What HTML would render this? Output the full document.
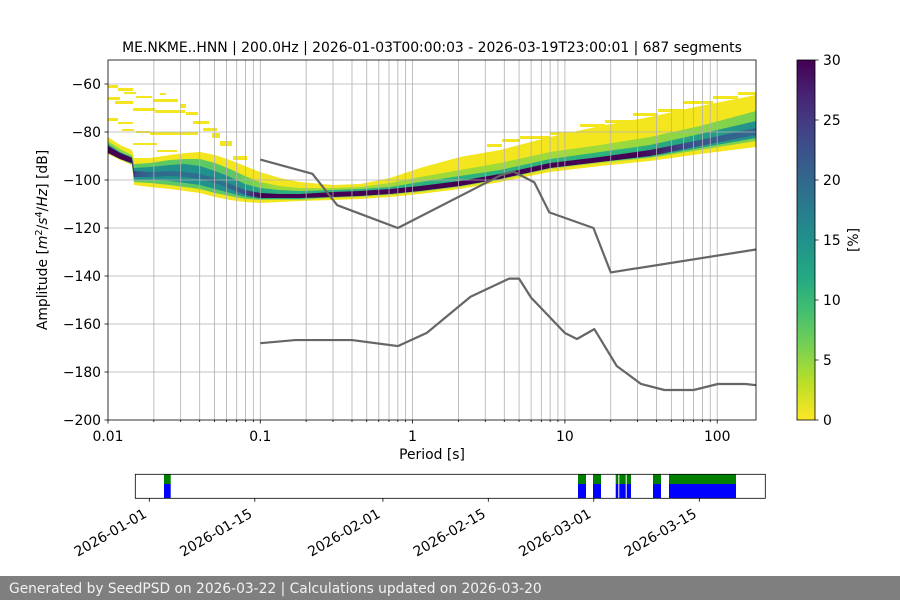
<!DOCTYPE html>
<html><head><meta charset="utf-8"><style>
html,body{margin:0;padding:0;background:#fff;}
svg{display:block;}
text{font-family:"DejaVu Sans","Liberation Sans",sans-serif;fill:#000;}
</style></head><body>
<svg width="900" height="600" viewBox="0 0 900 600" xmlns="http://www.w3.org/2000/svg">
<defs>
<linearGradient id="cb" x1="0" y1="0" x2="0" y2="1">
<stop offset="0" stop-color="#440154"/>
<stop offset="0.1" stop-color="#482475"/>
<stop offset="0.2" stop-color="#414487"/>
<stop offset="0.3" stop-color="#355f8d"/>
<stop offset="0.4" stop-color="#2a788e"/>
<stop offset="0.5" stop-color="#21918c"/>
<stop offset="0.6" stop-color="#22a884"/>
<stop offset="0.7" stop-color="#44bf70"/>
<stop offset="0.8" stop-color="#7ad151"/>
<stop offset="0.9" stop-color="#bddf26"/>
<stop offset="1" stop-color="#fde725"/>
</linearGradient>
<linearGradient id="dk" gradientUnits="userSpaceOnUse" x1="108" y1="0" x2="756" y2="0">
<stop offset="0" stop-color="#440154"/>
<stop offset="0.0355" stop-color="#440154"/>
<stop offset="0.0432" stop-color="#3b528b"/>
<stop offset="0.0679" stop-color="#2f6b8e"/>
<stop offset="0.1806" stop-color="#2c728e"/>
<stop offset="0.2114" stop-color="#3b528b"/>
<stop offset="0.2377" stop-color="#440154"/>
<stop offset="0.821" stop-color="#440154"/>
<stop offset="0.8981" stop-color="#3b528b"/>
<stop offset="0.9599" stop-color="#33638d"/>
<stop offset="1" stop-color="#31688e"/>
</linearGradient>
<linearGradient id="gr" gradientUnits="userSpaceOnUse" x1="108" y1="0" x2="756" y2="0">
<stop offset="0" stop-color="#8fd744"/>
<stop offset="0.034" stop-color="#8fd744"/>
<stop offset="0.043" stop-color="#5ec962"/>
<stop offset="0.196" stop-color="#5ec962"/>
<stop offset="0.258" stop-color="#a0da39"/>
<stop offset="0.759" stop-color="#a0da39"/>
<stop offset="1" stop-color="#7ad151"/>
</linearGradient>
<linearGradient id="tl" gradientUnits="userSpaceOnUse" x1="108" y1="0" x2="756" y2="0">
<stop offset="0" stop-color="#21918c"/>
<stop offset="0.2" stop-color="#21918c"/>
<stop offset="0.26" stop-color="#2db27d"/>
<stop offset="0.8" stop-color="#2db27d"/>
<stop offset="1" stop-color="#21918c"/>
</linearGradient>
</defs>

<rect x="0" y="0" width="900" height="600" fill="#fff"/>

<!-- heatmap -->
<g fill="#f4e61e">
<rect x="108" y="85" width="10" height="3"/>
<rect x="118" y="88" width="15" height="3"/>
<rect x="124" y="92" width="12" height="2"/>
<rect x="108" y="97" width="12" height="3"/>
<rect x="115" y="101" width="18" height="3"/>
<rect x="136" y="96" width="16" height="2"/>
<rect x="153" y="99" width="25" height="3"/>
<rect x="160" y="93" width="6" height="2"/>
<rect x="133" y="108" width="22" height="3"/>
<rect x="155" y="110" width="30" height="3"/>
<rect x="180" y="104" width="6" height="4"/>
<rect x="186" y="112" width="12" height="3"/>
<rect x="193" y="121" width="16" height="3"/>
<rect x="203" y="128" width="14" height="3"/>
<rect x="108" y="118" width="10" height="3"/>
<rect x="118" y="122" width="15" height="2"/>
<rect x="122" y="129" width="12" height="2"/>
<rect x="136" y="131" width="14" height="2"/>
<rect x="150" y="132" width="48" height="3"/>
<rect x="133" y="143" width="24" height="2"/>
<rect x="157" y="150" width="20" height="2"/>
<rect x="212" y="133" width="8" height="5"/>
<rect x="220" y="141" width="12" height="5"/>
<rect x="233" y="156" width="14" height="4"/>
<rect x="487" y="144" width="15" height="3"/>
<rect x="502" y="139" width="18" height="3"/>
<rect x="520" y="136" width="30" height="3"/>
<rect x="550" y="132" width="30" height="3"/>
<rect x="580" y="124" width="25" height="3"/>
<rect x="605" y="120" width="28" height="3"/>
<rect x="633" y="113" width="25" height="3"/>
<rect x="658" y="109" width="25" height="3"/>
<rect x="683" y="101" width="30" height="3"/>
<rect x="713" y="96" width="25" height="3"/>
<rect x="738" y="92" width="18" height="3"/>
<polygon points="108,137 120,145 132,150 134,158 150,158 170,155 185,153 200,152 215,155 230,160 245,166 260,172 280,178 300,182 333,185 360,184 390,178 420,168 460,157 500,150 550,137 600,126 650,117 700,106 756,95 756,147 700,154 650,161 600,166 550,172 500,182 460,189 420,194 390,197 360,199 333,200 300,201 280,202 260,203 245,202 230,200 215,197 200,193 185,191 170,189 150,187 134,185 132,165 120,160 108,154"/>
</g>
<polygon fill="url(#gr)" points="108,141 120,149 132,155 134,164 150,163 170,160 185,159 200,159 215,163 230,169 245,176 260,182 280,186 300,188 333,188 360,187 390,183 420,177 460,170 500,163 550,152 600,145 650,137 700,126 756,111 756,141 700,150 650,158 600,163 550,169 500,180 460,187 420,192 390,195 360,197 333,198 300,200 280,200 260,200 245,199 230,196 215,193 200,189 185,187 170,185 150,183 134,182 132,164 120,159 108,153"/>
<polygon fill="url(#tl)" points="108,144 120,152 132,157 134,168 150,167 170,165 185,164 200,166 215,171 230,177 245,184 260,188 280,190 300,191 333,190 360,189 390,187 420,182 460,176 500,170 550,159 600,152 650,145 700,134 756,121 756,138 700,148 650,157 600,162 550,168 500,179 460,186 420,191 390,194 360,196 333,197 300,199 280,199 260,199 245,197 230,193 215,189 200,185 185,183 170,181 150,180 134,180 132,164 120,159 108,153"/>
<polygon fill="url(#dk)" points="108,146 120,153 132,158 134,171 150,172 170,171 185,172 200,174 215,178 230,184 245,190 260,193 280,194 300,194 333,192 360,191 390,189 420,186 460,181 500,174 550,163 600,157 650,150 700,140 756,128 756,135 700,146 650,156 600,162 550,168 500,179 460,186 420,191 390,194 360,196 333,197 300,198 280,198 260,198 245,195 230,189 215,183 200,179 185,177 170,176 150,177 134,177 132,163 120,159 108,153"/>

<!-- grid -->
<path fill="none" stroke="#b0b0b0" stroke-width="0.8" d="M153.85 60V420M180.67 60V420M199.69 60V420M214.45 60V420M226.51 60V420M236.71 60V420M245.54 60V420M253.33 60V420M260.3 60V420M306.15 60V420M332.97 60V420M351.99 60V420M366.75 60V420M378.81 60V420M389.01 60V420M397.84 60V420M405.63 60V420M412.6 60V420M458.45 60V420M485.27 60V420M504.29 60V420M519.05 60V420M531.11 60V420M541.31 60V420M550.14 60V420M557.93 60V420M564.9 60V420M610.75 60V420M637.57 60V420M656.59 60V420M671.35 60V420M683.41 60V420M693.61 60V420M702.44 60V420M710.23 60V420M717.2 60V420M108 84H756M108 132H756M108 180H756M108 228H756M108 276H756M108 324H756M108 372H756"/>

<!-- noise models -->
<polyline fill="none" stroke="#666666" stroke-width="2.2" stroke-linejoin="round" points="260.3,159.6 312.45,173.78 337.23,205.2 397.84,228 500.9,175.2 513.54,171.6 534.34,182.4 549.31,212.4 593.46,228 610.75,272.4 756,249.5"/>
<polyline fill="none" stroke="#666666" stroke-width="2.2" stroke-linejoin="round" points="260.3,343.2 295.4,340.08 352,340.08 397.84,346.08 426.83,332.88 470.51,296.76 509.08,278.64 519.05,278.64 531.11,297.6 564.9,333 576.96,339 594.31,329.11 616.75,366 641,383.98 664.38,390 693.61,390 717.86,384 745.76,383.98 756,385.2"/>

<!-- spines -->
<rect x="108" y="60" width="648" height="360" fill="none" stroke="#000" stroke-width="0.8"/>

<!-- ticks -->
<path fill="none" stroke="#000" stroke-width="0.8" d="M108 420v3.5M260.3 420v3.5M412.6 420v3.5M564.9 420v3.5M717.2 420v3.5M153.85 420v2M180.67 420v2M199.69 420v2M214.45 420v2M226.51 420v2M236.71 420v2M245.54 420v2M253.33 420v2M306.15 420v2M332.97 420v2M351.99 420v2M366.75 420v2M378.81 420v2M389.01 420v2M397.84 420v2M405.63 420v2M458.45 420v2M485.27 420v2M504.29 420v2M519.05 420v2M531.11 420v2M541.31 420v2M550.14 420v2M557.93 420v2M610.75 420v2M637.57 420v2M656.59 420v2M671.35 420v2M683.41 420v2M693.61 420v2M702.44 420v2M710.23 420v2M104.5 84H108M104.5 132H108M104.5 180H108M104.5 228H108M104.5 276H108M104.5 324H108M104.5 372H108M104.5 420H108"/>

<g font-size="13.9">
<text x="101" y="89" text-anchor="end">−60</text>
<text x="101" y="137" text-anchor="end">−80</text>
<text x="101" y="185" text-anchor="end">−100</text>
<text x="101" y="233" text-anchor="end">−120</text>
<text x="101" y="281" text-anchor="end">−140</text>
<text x="101" y="329" text-anchor="end">−160</text>
<text x="101" y="377" text-anchor="end">−180</text>
<text x="101" y="425" text-anchor="end">−200</text>
<text x="108" y="441" text-anchor="middle">0.01</text>
<text x="260.3" y="441" text-anchor="middle">0.1</text>
<text x="412.6" y="441" text-anchor="middle">1</text>
<text x="564.9" y="441" text-anchor="middle">10</text>
<text x="717.2" y="441" text-anchor="middle">100</text>
<text x="432" y="459" text-anchor="middle">Period [s]</text>
<text x="432" y="52" text-anchor="middle">ME.NKME..HNN | 200.0Hz | 2026-01-03T00:00:03 - 2026-03-19T23:00:01 | 687 segments</text>
<text x="47" y="240" text-anchor="middle" transform="rotate(-90 47 240)">Amplitude [<tspan font-style="italic">m</tspan><tspan dy="-5" font-size="9.7">2</tspan><tspan dy="5">/</tspan><tspan font-style="italic">s</tspan><tspan dy="-5" font-size="9.7">4</tspan><tspan dy="5">/</tspan><tspan font-style="italic">Hz</tspan>] [dB]</text>
</g>

<!-- colorbar -->
<rect x="797" y="60" width="18" height="360" fill="url(#cb)" stroke="#000" stroke-width="0.8"/>
<path fill="none" stroke="#000" stroke-width="0.8" d="M815 420h3.5M815 360h3.5M815 300h3.5M815 240h3.5M815 180h3.5M815 120h3.5M815 60h3.5"/>
<g font-size="13.9">
<text x="823" y="425">0</text>
<text x="823" y="365">5</text>
<text x="823" y="305">10</text>
<text x="823" y="245">15</text>
<text x="823" y="185">20</text>
<text x="823" y="125">25</text>
<text x="823" y="65">30</text>
<text x="858" y="240" text-anchor="middle" transform="rotate(-90 858 240)">[%]</text>
</g>

<!-- timeline -->
<g>
<rect x="164" y="474.3" width="6.7" height="9.7" fill="#008000"/>
<rect x="164" y="484" width="6.7" height="14.3" fill="#0000ff"/>
<rect x="578" y="474.3" width="8" height="9.7" fill="#008000"/>
<rect x="578" y="484" width="8" height="14.3" fill="#0000ff"/>
<rect x="593" y="474.3" width="8" height="9.7" fill="#008000"/>
<rect x="593" y="484" width="8" height="14.3" fill="#0000ff"/>
<rect x="615.7" y="474.3" width="2.6" height="9.7" fill="#008000"/>
<rect x="615.7" y="484" width="2.6" height="14.3" fill="#0000ff"/>
<rect x="619.3" y="474.3" width="6.4" height="9.7" fill="#008000"/>
<rect x="619.3" y="484" width="6.4" height="14.3" fill="#0000ff"/>
<rect x="626.7" y="474.3" width="4.3" height="9.7" fill="#008000"/>
<rect x="626.7" y="484" width="4.3" height="14.3" fill="#0000ff"/>
<rect x="653" y="474.3" width="8" height="9.7" fill="#008000"/>
<rect x="653" y="484" width="8" height="14.3" fill="#0000ff"/>
<rect x="669" y="474.3" width="67" height="9.7" fill="#008000"/>
<rect x="669" y="484" width="67" height="14.3" fill="#0000ff"/>
</g>
<rect x="135.3" y="474.3" width="630" height="24" fill="none" stroke="#000" stroke-width="0.8"/>
<path fill="none" stroke="#000" stroke-width="0.8" d="M149.3 498.3v3.5M254.8 498.3v3.5M382.9 498.3v3.5M488.3 498.3v3.5M593.8 498.3v3.5M699.3 498.3v3.5"/>
<g font-size="13.9" text-anchor="end">
<text x="147.7" y="516.5" transform="rotate(-30 147.7 516.5)">2026-01-01</text>
<text x="253.2" y="516.5" transform="rotate(-30 253.2 516.5)">2026-01-15</text>
<text x="381.3" y="516.5" transform="rotate(-30 381.3 516.5)">2026-02-01</text>
<text x="486.7" y="516.5" transform="rotate(-30 486.7 516.5)">2026-02-15</text>
<text x="592.2" y="516.5" transform="rotate(-30 592.2 516.5)">2026-03-01</text>
<text x="697.7" y="516.5" transform="rotate(-30 697.7 516.5)">2026-03-15</text>
</g>

<!-- footer -->
<rect x="0" y="576" width="900" height="24" fill="#7f7f7f"/>
<text x="9" y="593" font-size="13.8" style="fill:#f2f2f2">Generated by SeedPSD on 2026-03-22 | Calculations updated on 2026-03-20</text>
</svg>
</body></html>
